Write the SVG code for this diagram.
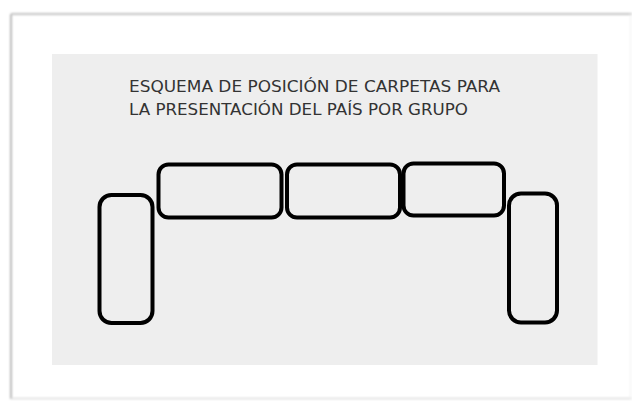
<svg xmlns="http://www.w3.org/2000/svg" width="632" height="401" viewBox="0 0 632 401">
  <defs>
    <filter id="soft" x="-5%" y="-5%" width="110%" height="110%">
      <feGaussianBlur stdDeviation="0.8"/>
    </filter>
  </defs>
  <style>
    .carpeta { fill: none; stroke: #000; stroke-width: 4; }
    .title { font-family: "DejaVu Sans", "Noto Sans", sans-serif; font-size: 15px; fill: #333333; }
  </style>
  <rect width="632" height="401" fill="#ffffff"/>
  <g id="frame" filter="url(#soft)">
    <line x1="11" y1="14" x2="11" y2="399" stroke="#b8b8b8" stroke-width="2"/>
    <line x1="11" y1="14" x2="632" y2="14" stroke="#c4c4c4" stroke-width="2"/>
    <line x1="11" y1="398.5" x2="632" y2="398.5" stroke="#dcdcdc" stroke-width="1.5"/>
    <line x1="630.5" y1="14" x2="630.5" y2="399" stroke="#f0f0f0" stroke-width="1"/>
  </g>
  <rect id="panel" x="52" y="54" width="545.5" height="311" fill="#eeeeee"/>
  <g id="title">
    <text class="title" x="129" y="92" textLength="371" lengthAdjust="spacingAndGlyphs">ESQUEMA DE POSICIÓN DE CARPETAS PARA</text>
    <text class="title" x="129" y="115" textLength="339" lengthAdjust="spacingAndGlyphs">LA PRESENTACIÓN DEL PAÍS POR GRUPO</text>
  </g>
  <g id="carpeta-izquierda"><rect class="carpeta" x="99.5" y="195" width="53" height="128" rx="12"/></g>
  <g id="carpeta-1"><rect class="carpeta" x="158.5" y="164.5" width="123" height="53" rx="10"/></g>
  <g id="carpeta-2"><rect class="carpeta" x="287" y="164.5" width="113" height="53" rx="10"/></g>
  <g id="carpeta-3"><rect class="carpeta" x="403.5" y="163.5" width="100.5" height="52" rx="10"/></g>
  <g id="carpeta-derecha"><rect class="carpeta" x="509" y="193.5" width="48" height="129" rx="12"/></g>
  <g id="connectors"/>
</svg>
